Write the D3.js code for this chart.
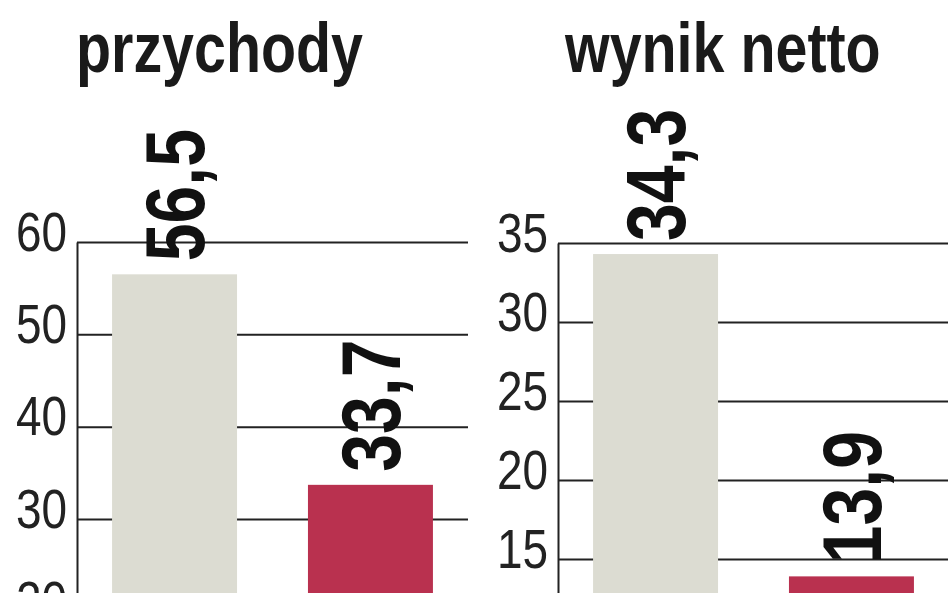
<!DOCTYPE html>
<html>
<head>
<meta charset="utf-8">
<script src="https://cdn.jsdelivr.net/npm/d3@7"></script>
<style>
  html, body { margin: 0; padding: 0; background: #fff; }
  svg { display: block; overflow: hidden; }
  text { font-family: "Liberation Sans", Arial, sans-serif; }
</style>
</head>
<body>
<div id="chart"></div>
<script>
// data (mln zł)
var panelTitles = ["przychody", "wynik netto"];
var periods = ["okres poprzedni", "okres bieżący"];
var przychody = [56.5, 33.7];
var wynikNetto = [34.3, 13.9];
var przychodyTicks = [20, 30, 40, 50, 60];
var wynikTicks = [15, 20, 25, 30, 35];
var barColors = ["#dcdcd2", "#b9314f"];

var svgWidth = 948;
var svgHeight = 593;
var narrow = 0.82; // Liberation Sans squeezed to look like the narrow cut

// layout of the two panels
var layout = [
  { left: 77, right: 468, top: 242, base: 796, titleX: 76, values: przychody, ticks: przychodyTicks },
  { left: 558, right: 949, top: 243, base: 796, titleX: 565, values: wynikNetto, ticks: wynikTicks }
];

var pl = d3.formatLocale({ decimal: ",", thousands: " ", grouping: [3], currency: ["", " zł"] });
var fmt = pl.format(".1f");

var svg = d3.select("#chart")
  .append("svg")
  .attr("width", svgWidth)
  .attr("height", svgHeight);

layout.forEach(function(p, i) {
  var w = p.right - p.left;
  var g = svg.append("g")
    .attr("transform", `translate(${p.left}, 0)`);

  var x = d3.scaleBand()
    .domain(periods)
    .range([0, w])
    .paddingInner(0.362)
    .paddingOuter(0.179);

  var y = d3.scaleLinear()
    .domain([0, d3.max(p.ticks)])
    .range([p.base, p.top]);

  // axis + gridlines
  var leftAxis = d3.axisLeft(y)
    .tickValues(p.ticks)
    .tickSize(-w)
    .tickSizeOuter(0)
    .tickPadding(10)
    .tickFormat(d3.format("d"));

  var ax = g.append("g").call(leftAxis);
  ax.select(".domain").attr("stroke", "#222").attr("stroke-width", 2);
  ax.selectAll(".tick line").attr("stroke", "#222").attr("stroke-width", 2);
  ax.selectAll(".tick text")
    .attr("fill", "#222")
    .attr("font-size", 56)
    .attr("font-family", "Liberation Sans, Arial, sans-serif")
    .attr("x", 0)
    .attr("dy", 0)
    .attr("y", 0)
    .attr("transform", `translate(-10, 8) scale(${narrow}, 1)`);

  // bars
  g.selectAll("rect.bar")
    .data(p.values)
    .enter()
    .append("rect")
    .attr("class", "bar")
    .attr("x", (d, j) => x(periods[j]))
    .attr("width", x.bandwidth())
    .attr("y", d => y(d))
    .attr("height", d => y(0) - y(d))
    .attr("fill", (d, j) => barColors[j]);

  // value labels, rotated
  g.selectAll("text.val")
    .data(p.values)
    .enter()
    .append("text")
    .attr("class", "val")
    .attr("transform", (d, j) => `translate(${x(periods[j]) + x.bandwidth() / 2}, ${y(d) - 13}) rotate(-90) scale(${narrow}, 1)`)
    .attr("dy", "0.36em")
    .attr("font-size", 83)
    .attr("font-weight", "bold")
    .attr("fill", "#111")
    .text(d => fmt(d));

  // title
  svg.append("text")
    .attr("transform", `translate(${p.titleX}, 72) scale(${narrow}, 1)`)
    .attr("font-size", 70)
    .attr("font-weight", "bold")
    .attr("fill", "#1a1a1a")
    .text(panelTitles[i]);
});
</script>
</body>
</html>
